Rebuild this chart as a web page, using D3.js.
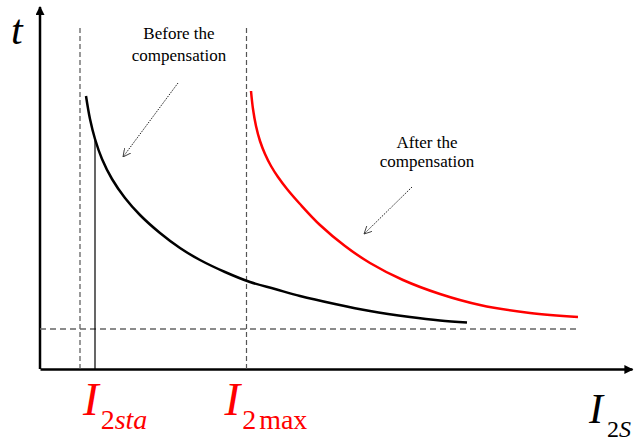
<!DOCTYPE html>
<html><head><meta charset="utf-8">
<script src="https://cdn.jsdelivr.net/npm/d3@7"></script>
</head>
<body style="margin:0;background:#fff">
<svg id="chart" width="644" height="441" style="display:block"></svg>
<script>
// Data (arbitrary current / time units)
const beforeCurve = [[46,273],[50,250],[55,230],[62,210],[72,190],[85,171],[100,154],[120,136],[140,121],[160,109],[185,97],[210,87],[235,80],[260,73],[295,65],[330,58],[370,52],[400,48.5],[427,46.5]];
const afterCurve  = [[211,278],[213,260],[216,243],[220,228],[225,215],[231,203],[238,192],[247,180],[260,165],[280,144],[305,123],[330,106],[363,89],[400,75],[440,64],[490,56],[538,52]];
const I2sta = 40;        // dashed vertical
const I2staSolid = 55;   // solid vertical
const I2max = 206.5;     // dashed vertical
const tMin = 40;         // horizontal dashed asymptote
const tMinEnd = 538;
const vTop = 341;
const xLabelValues = [I2sta, I2max];
const xLabelSubs = [[["2",false,0],["sta",true,0]],[["2",false,0],["max",false,3]]];
const noteLines = [["Before the","compensation"],["After the","compensation"]];

const FONT = "'Liberation Serif'";
const svg = d3.select("#chart");
const x = d3.scaleLinear().domain([0,592]).range([40,632]);
const y = d3.scaleLinear().domain([0,362]).range([369,7]);

const defs = svg.append("defs");
defs.append("marker").attr("id","axArrow").attr("viewBox","0 0 10 10")
  .attr("refX",9).attr("refY",5).attr("markerWidth",4.2).attr("markerHeight",3.6)
  .attr("orient","auto").attr("markerUnits","strokeWidth")
  .append("path").attr("d","M0,0 L10,5 L0,10 Z").attr("fill","#000");
defs.append("marker").attr("id","noteArrow").attr("viewBox","0 0 10 10")
  .attr("refX",10).attr("refY",5).attr("markerWidth",8).attr("markerHeight",8)
  .attr("orient","auto").attr("markerUnits","userSpaceOnUse")
  .append("path").attr("d","M0,0 L10,5 L0,10").attr("fill","none").attr("stroke","#222").attr("stroke-width",1);

// axes
const xAxis = svg.append("g").attr("transform",`translate(0,${y(0)})`)
  .call(d3.axisBottom(x).ticks(0).tickSize(0).tickSizeOuter(0));
xAxis.select(".domain").attr("stroke","#000").attr("stroke-width",2.5).attr("marker-end","url(#axArrow)");
const yAxis = svg.append("g").attr("transform",`translate(${x(0)},0)`)
  .call(d3.axisLeft(y).ticks(0).tickSize(0).tickSizeOuter(0));
yAxis.select(".domain").attr("d",`M0,${y(0)}V${y(362)}`).attr("stroke","#000").attr("stroke-width",2.5).attr("marker-end","url(#axArrow)");

// dashed reference lines
const dash = svg.append("g").attr("stroke","#555").attr("stroke-width",1.2).attr("stroke-dasharray","5,3").attr("fill","none");
[I2sta, I2max].forEach(v=>{
  dash.append("line").attr("x1",x(v)).attr("x2",x(v)).attr("y1",y(0)).attr("y2",y(vTop));
});
dash.append("line").attr("x1",x(0)).attr("x2",x(tMinEnd)).attr("y1",y(tMin)).attr("y2",y(tMin)).attr("stroke-width",1.4).attr("stroke-dasharray","6,4").attr("stroke","#666");

function interp(curve, xv){
  for(let i=0;i<curve.length-1;i++){
    const [x0,y0]=curve[i],[x1,y1]=curve[i+1];
    if(xv>=x0&&xv<=x1) return y0+(y1-y0)*(xv-x0)/(x1-x0);
  }
  return curve[0][1];
}
svg.append("line").attr("x1",x(I2staSolid)).attr("x2",x(I2staSolid))
  .attr("y1",y(0)).attr("y2",y(interp(beforeCurve,I2staSolid)))
  .attr("stroke","#000").attr("stroke-width",1.2);

// curves
const line = d3.line().x(d=>x(d[0])).y(d=>y(d[1])).curve(d3.curveCatmullRom.alpha(0.5));
svg.append("path").datum(beforeCurve).attr("d",line).attr("fill","none").attr("stroke","#000").attr("stroke-width",2.5);
svg.append("path").datum(afterCurve).attr("d",line).attr("fill","none").attr("stroke","#ff0000").attr("stroke-width",2.5);

// annotations (positions in data units)
const notePos = [
  {tx:139, ty:[330,308], from:[138,286], to:[83,212]},
  {tx:387, ty:[221,202], from:[372,182], to:[324,135]}
];
noteLines.forEach((lines,k)=>{
  const n = notePos[k];
  lines.forEach((l,i)=>{
    svg.append("text").attr("x",x(n.tx)).attr("y",y(n.ty[i])).attr("text-anchor","middle")
      .style("font-family",FONT).attr("font-size",17).attr("fill","#000").text(l);
  });
  svg.append("line").attr("x1",x(n.from[0])).attr("y1",y(n.from[1]))
    .attr("x2",x(n.to[0])).attr("y2",y(n.to[1]))
    .attr("stroke","#222").attr("stroke-width",1).attr("stroke-dasharray","1.5,1.2")
    .attr("marker-end","url(#noteArrow)");
});

// x labels (red)
const labelShift = [3, -22];
xLabelValues.forEach((v,k)=>{
  const t = svg.append("text").attr("x",x(v)+labelShift[k]).attr("y",415).attr("fill","#ff0000").style("font-family",FONT);
  t.append("tspan").attr("font-size",47).attr("font-style","italic").text("I");
  xLabelSubs[k].forEach((s,i)=>{
    t.append("tspan").attr("font-size",28).attr("dy",i===0?14:0).attr("dx",i===0?2:s[2])
      .attr("font-style",s[1]?"italic":"normal").text(s[0]);
  });
});

// axis titles
svg.append("text").attr("x",11).attr("y",44).style("font-family",FONT).attr("font-size",42).attr("font-style","italic").text("t");
const ax = svg.append("text").attr("x",589).attr("y",423).attr("fill","#000").style("font-family",FONT);
ax.append("tspan").attr("font-size",42).attr("font-style","italic").text("I");
ax.append("tspan").attr("font-size",24).attr("dy",14).attr("dx",4).text("2");
ax.append("tspan").attr("font-size",24).attr("font-style","italic").text("S");
</script>
</body></html>
